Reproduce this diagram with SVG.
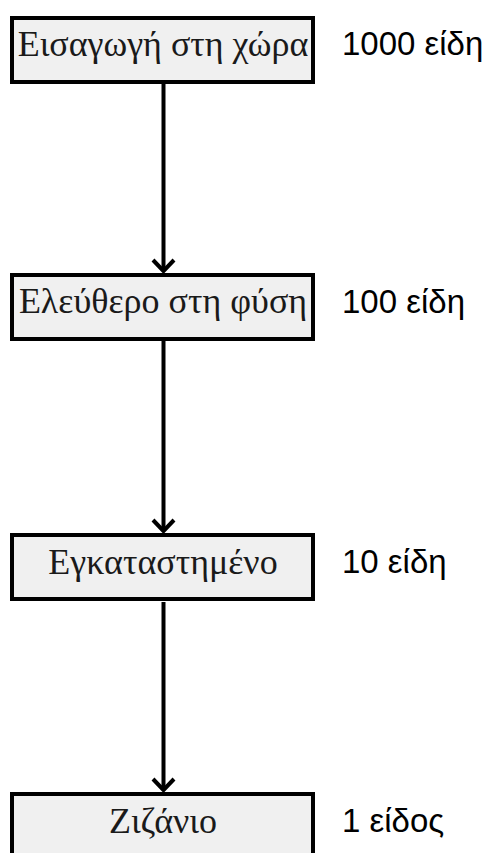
<svg xmlns="http://www.w3.org/2000/svg" width="494" height="853" viewBox="0 0 494 853">
  <style>
    .box { fill: #f0f0f0; stroke: #000; stroke-width: 4; }
    .name { font-family: "Liberation Serif", "DejaVu Serif", serif; font-size: 36px; fill: #1a1a1a; text-anchor: middle; }
    .count { font-family: "Liberation Sans", "DejaVu Sans", sans-serif; font-size: 33px; fill: #000; }
    .edge { stroke: #000; stroke-width: 4; fill: none; marker-end: url(#chevron); }
  </style>
  <defs>
    <!-- open chevron head, tip at the end of the line -->
    <marker id="chevron" viewBox="0 0 16 24" refX="12" refY="12" markerWidth="16" markerHeight="24" markerUnits="userSpaceOnUse" orient="auto" overflow="visible">
      <path d="M1,1.5 L12,12 L1,22.5" fill="none" stroke="#000" stroke-width="4"/>
    </marker>
  </defs>

  <!-- connectors between the stages -->
  <g id="connectors">
    <line class="edge" x1="163.5" y1="84" x2="163.5" y2="271"/>
    <line class="edge" x1="163.5" y1="341" x2="163.5" y2="531"/>
    <line class="edge" x1="163.5" y1="602" x2="163.5" y2="790"/>
  </g>

  <g id="node-introduction">
    <rect class="box" x="12" y="18" width="301" height="64"/>
    <text class="name" x="163" y="56">Εισαγωγή στη χώρα</text>
    <text class="count" x="342" y="55">1000 είδη</text>
  </g>

  <g id="node-free">
    <rect class="box" x="12" y="275" width="301" height="64"/>
    <text class="name" x="163" y="313">Ελεύθερο στη φύση</text>
    <text class="count" x="342" y="313">100 είδη</text>
  </g>

  <g id="node-established">
    <rect class="box" x="12" y="535" width="301" height="64"/>
    <text class="name" x="163" y="574">Εγκαταστημένο</text>
    <text class="count" x="342" y="573">10 είδη</text>
  </g>

  <g id="node-weed">
    <rect class="box" x="12" y="794" width="301" height="64"/>
    <text class="name" x="163" y="833">Ζιζάνιο</text>
    <text class="count" x="342" y="832">1 είδος</text>
  </g>
</svg>
